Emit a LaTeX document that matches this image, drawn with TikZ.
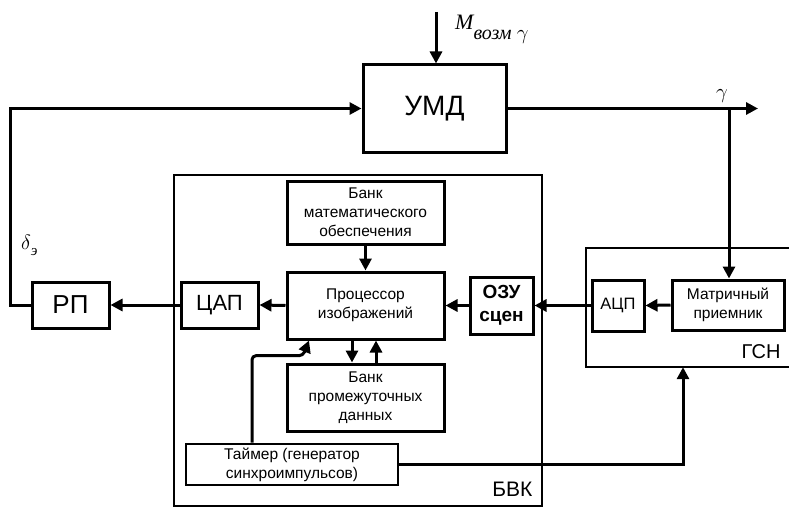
\documentclass[tikz,border=0pt]{standalone}
\usepackage{fontspec}
\setmainfont{Liberation Sans}
\newfontfamily\serif{Liberation Serif}
\usetikzlibrary{arrows.meta}

\tikzset{
    blk/.style={draw, line width=3pt, inner sep=0pt, align=center,
        font=\fontsize{15.5}{19}\selectfont},
    frame/.style={draw, line width=2.4pt, inner sep=0pt},
    arr/.style={line width=3pt, -{Triangle[length=12pt,width=12pt]}},
    lnk/.style={line width=3pt}
}

\begin{document}
\begin{tikzpicture}[x=1pt,y=-1pt]
    \useasboundingbox (0,0) rectangle (789,508);
    % outer frames
    \node[frame, minimum width=368pt, minimum height=331pt] (bvk) at (358,340.5) {};
    \node[minimum width=214pt, minimum height=119pt, inner sep=0pt] (gsn) at (693,307.5) {};
    \draw[line width=2.4pt] (gsn.north east) -- (gsn.north west) -- (gsn.south west) -- (gsn.south east);
    \node[anchor=south east, font=\fontsize{21}{21}\selectfont] (bvklbl) at (536,500) {БВК};
    \node[anchor=south east, font=\fontsize{20}{20}\selectfont] (gsnlbl) at (784,362) {ГСН};
    % blocks
    \node[blk, minimum width=143pt, minimum height=87pt, font=\fontsize{28}{28}\selectfont] (umd) at (434.5,108.5) {УМД};
    \node[blk, minimum width=77pt, minimum height=46pt, font=\fontsize{26}{26}\selectfont] (rp) at (70.5,305) {РП};
    \node[blk, minimum width=77pt, minimum height=46pt, font=\fontsize{22}{22}\selectfont] (dac) at (219.5,305) {ЦАП};
    \node[blk, minimum width=157pt, minimum height=63pt] (bmath) at (365.5,212.5) {Банк\\математического\\обеспечения};
    \node[blk, minimum width=157pt, minimum height=67pt] (proc) at (365.5,305.5) {Процессор\\изображений};
    \node[blk, minimum width=157pt, minimum height=67pt] (binter) at (365.5,397.5) {Банк\\промежуточных\\данных};
    \node[blk, minimum width=63pt, minimum height=57pt, font=\bfseries\fontsize{19}{23}\selectfont] (ozu) at (501.5,305.5) {ОЗУ\\сцен};
    \node[blk, minimum width=52pt, minimum height=51pt, font=\fontsize{16.5}{16}\selectfont] (adc) at (618,305.5) {АЦП};
    \node[blk, minimum width=112pt, minimum height=50pt] (matr) at (728,305) {Матричный\\приемник};
    \node[blk, minimum width=212pt, minimum height=41pt, line width=2.6pt] (tmr) at (292,464.5) {Таймер (генератор\\синхроимпульсов)};
    % free ends
    \coordinate (min) at (436,12);
    \coordinate (gout) at (758,108.5);
    \coordinate (br) at (729,108.5);
    \coordinate (gsnS) at ([xshift=-10pt]gsn.south);
    % labels
    \node[anchor=base west, inner sep=0pt] (mlbl) at (455,30)
        {\fontsize{22}{22}\selectfont\serif\itshape M\raisebox{-10pt}{\fontsize{20}{20}\selectfont возм $\gamma$}};
    \node[anchor=base, inner sep=0pt, font=\fontsize{20}{20}\selectfont] (glbl) at (722,99) {$\gamma$};
    \node[anchor=base west, inner sep=0pt] (dlbl) at (21,249)
        {\fontsize{22}{22}\selectfont$\delta$\raisebox{-6pt}{\fontsize{15}{15}\selectfont\serif\itshape э}};
    % connectors
    \draw[arr] (min) -- (min |- umd.north);
    \draw[arr] (rp.west) -- ++(-20,0) |- (umd.west);
    \draw[arr] (umd.east) -- (gout);
    \draw[arr] (br) -- (br |- matr.north);
    \draw[arr] (matr.west) -- (adc.east);
    \draw[arr] (adc.west) -- (ozu.east);
    \draw[arr] (ozu.west) -- (proc.east);
    \draw[arr] (proc.west) -- (dac.east);
    \draw[arr] (dac.west) -- (rp.east);
    \draw[arr] (bmath.south) -- (proc.north);
    \draw[arr] ([xshift=-13.5pt]proc.south) -- ([xshift=-13.5pt]binter.north);
    \draw[arr] ([xshift=10.5pt]binter.north) -- ([xshift=10.5pt]proc.south);
    \draw[arr, rounded corners=4pt] ([xshift=-40pt]tmr.north) -- ++(0,-87) -- ++(51,0) -- ([xshift=-56.5pt]proc.south);
    \draw[arr] (tmr.east) -| (gsnS);
\end{tikzpicture}
\end{document}
